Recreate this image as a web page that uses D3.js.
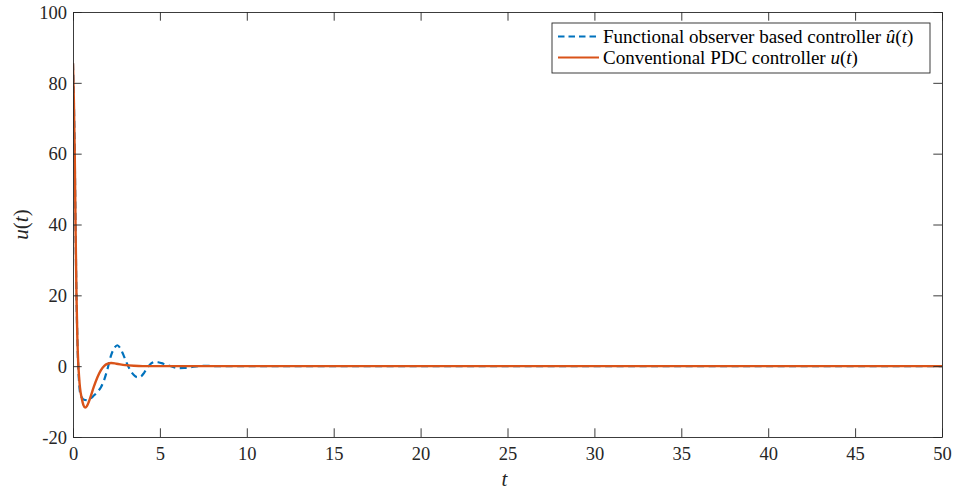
<!DOCTYPE html>
<html>
<head>
<meta charset="utf-8">
<script src="https://cdn.jsdelivr.net/npm/d3@7"></script>
<style>
  html, body { margin: 0; padding: 0; background: #fff; }
  svg { display: block; }
</style>
</head>
<body>
<svg id="chart" width="954" height="493"></svg>
<script>
// Control signal histories (time in seconds, u in input units)
const timeObs = [0, 0.05, 0.1, 0.15, 0.2, 0.25, 0.3, 0.35, 0.4, 0.5, 0.6, 0.8, 1.0, 1.2, 1.4, 1.6, 1.8, 2.0, 2.2, 2.4, 2.55, 2.7, 2.9, 3.1, 3.3, 3.5, 3.7, 3.9, 4.1, 4.3, 4.5, 4.7, 4.9, 5.2, 5.5, 5.8, 6.1, 6.4, 6.8, 7.2, 7.6, 8, 9, 10, 20, 30, 40, 50];
const uObserver = [85.5, 75, 60, 38, 20, 8, 0, -4.5, -7.3, -8.8, -9.4, -9.6, -9.2, -8.3, -7.3, -6.0, -3.8, -0.5, 3.2, 5.3, 5.9, 5.2, 3.2, 0.8, -1.2, -2.5, -3.1, -2.9, -1.8, -0.3, 0.8, 1.2, 1.1, 0.7, 0.2, -0.3, -0.55, -0.5, -0.25, 0, 0.1, 0.05, 0, 0, 0, 0, 0, 0];

const timePdc = [0, 0.05, 0.1, 0.15, 0.2, 0.25, 0.3, 0.35, 0.4, 0.5, 0.6, 0.7, 0.8, 0.9, 1.0, 1.2, 1.4, 1.6, 1.8, 2.0, 2.2, 2.5, 3.0, 3.5, 4.0, 5, 10, 20, 30, 40, 50];
const uPdc = [85.5, 75, 60, 38, 20, 8, 1, -3, -6, -9, -11, -11.7, -11.3, -10.2, -8.8, -5.8, -3.2, -1.2, 0.1, 0.7, 0.9, 0.7, 0.3, 0.1, 0, 0, 0, 0, 0, 0, 0];

const xTicks = [0, 5, 10, 15, 20, 25, 30, 35, 40, 45, 50];
const yTicks = [-20, 0, 20, 40, 60, 80, 100];

const seriesNames = ["Functional observer based controller ", "Conventional PDC controller "];
const seriesSymbols = ["û", "u"];
const seriesColors = ["#0072BD", "#D95319"];

const FONT = "Liberation Serif";
const svg = d3.select("#chart");
const plotLeft = 73, plotRight = 942, plotTop = 12, plotBottom = 437;
const tickLen = 8.7;
const axisColor = "#262626";

const x = d3.scaleLinear().domain([0, 50]).range([plotLeft, plotRight]);
const y = d3.scaleLinear().domain([-20, 100]).range([plotBottom, plotTop]);

// plot clip
svg.append("defs").append("clipPath").attr("id", "plotClip")
  .append("rect").attr("x", plotLeft).attr("y", plotTop)
  .attr("width", plotRight - plotLeft).attr("height", plotBottom - plotTop);

const line = d3.line().x(d => x(d[0])).y(d => y(d[1])).curve(d3.curveMonotoneX);

const plot = svg.append("g").attr("clip-path", "url(#plotClip)");

plot.append("path")
  .datum(d3.zip(timeObs, uObserver))
  .attr("d", line)
  .attr("fill", "none")
  .attr("stroke", seriesColors[0])
  .attr("stroke-width", 2.2)
  .attr("stroke-dasharray", "7,4.5");

plot.append("path")
  .datum(d3.zip(timePdc, uPdc))
  .attr("d", line)
  .attr("fill", "none")
  .attr("stroke", seriesColors[1])
  .attr("stroke-width", 2.4)
  .attr("stroke-linejoin", "round");

// axes (ticks pointing inward, box on)
function styleAxis(g) {
  g.attr("font-family", null).attr("font-size", null);
  g.selectAll(".domain").attr("stroke", axisColor).attr("stroke-width", 0.9);
  g.selectAll(".tick line").attr("stroke", axisColor).attr("stroke-width", 0.9);
  g.selectAll(".tick text").attr("fill", axisColor)
    .style("font-family", FONT)
    .style("font-size", "18.5px");
}

svg.append("g").attr("transform", `translate(0,${plotBottom})`)
  .call(d3.axisBottom(x).tickValues(xTicks).tickSize(-tickLen).tickPadding(10).tickSizeOuter(0).tickFormat(d => String(d)))
  .call(styleAxis);

svg.append("g").attr("transform", `translate(0,${plotTop})`)
  .call(d3.axisTop(x).tickValues(xTicks).tickSize(-tickLen).tickSizeOuter(0).tickFormat(""))
  .call(styleAxis);

svg.append("g").attr("transform", `translate(${plotLeft},0)`)
  .call(d3.axisLeft(y).tickValues(yTicks).tickSize(-tickLen).tickPadding(6).tickSizeOuter(0).tickFormat(d => String(d)))
  .call(styleAxis)
  .selectAll(".tick text").attr("dy", "0.34em");

svg.append("g").attr("transform", `translate(${plotRight},0)`)
  .call(d3.axisRight(y).tickValues(yTicks).tickSize(-tickLen).tickSizeOuter(0).tickFormat(""))
  .call(styleAxis);

// axis labels
svg.append("text")
  .attr("x", (plotLeft + plotRight) / 2 - 3).attr("y", 486)
  .attr("text-anchor", "middle")
  .attr("fill", axisColor)
  .style("font-family", FONT)
  .style("font-size", "21px").style("font-style", "italic")
  .text("t");

const yl = svg.append("text")
  .attr("transform", `translate(28,${(plotTop + plotBottom) / 2}) rotate(-90)`)
  .attr("text-anchor", "middle")
  .attr("fill", axisColor)
  .style("font-family", FONT)
  .style("font-size", "21px");
yl.append("tspan").style("font-style", "italic").text("u");
yl.append("tspan").text("(");
yl.append("tspan").style("font-style", "italic").text("t");
yl.append("tspan").text(")");

// legend
const lg = svg.append("g");
lg.append("rect")
  .attr("x", 552).attr("y", 23).attr("width", 378).attr("height", 50)
  .attr("fill", "#fff").attr("stroke", axisColor).attr("stroke-width", 0.9);

seriesNames.forEach((name, i) => {
  const ly = 36.5 + i * 21;
  lg.append("line")
    .attr("x1", 558).attr("x2", 599).attr("y1", ly).attr("y2", ly)
    .attr("stroke", seriesColors[i])
    .attr("stroke-width", 2.2)
    .attr("stroke-dasharray", i === 0 ? "6.5,4" : null);
  const t = lg.append("text")
    .attr("x", 603).attr("y", ly + 6)
    .attr("fill", "#000")
    .style("font-family", FONT)
    .style("font-size", "19px");
  t.append("tspan").text(name);
  t.append("tspan").style("font-style", "italic").text(seriesSymbols[i]);
  t.append("tspan").text("(");
  t.append("tspan").style("font-style", "italic").text("t");
  t.append("tspan").text(")");
});
</script>
</body>
</html>
